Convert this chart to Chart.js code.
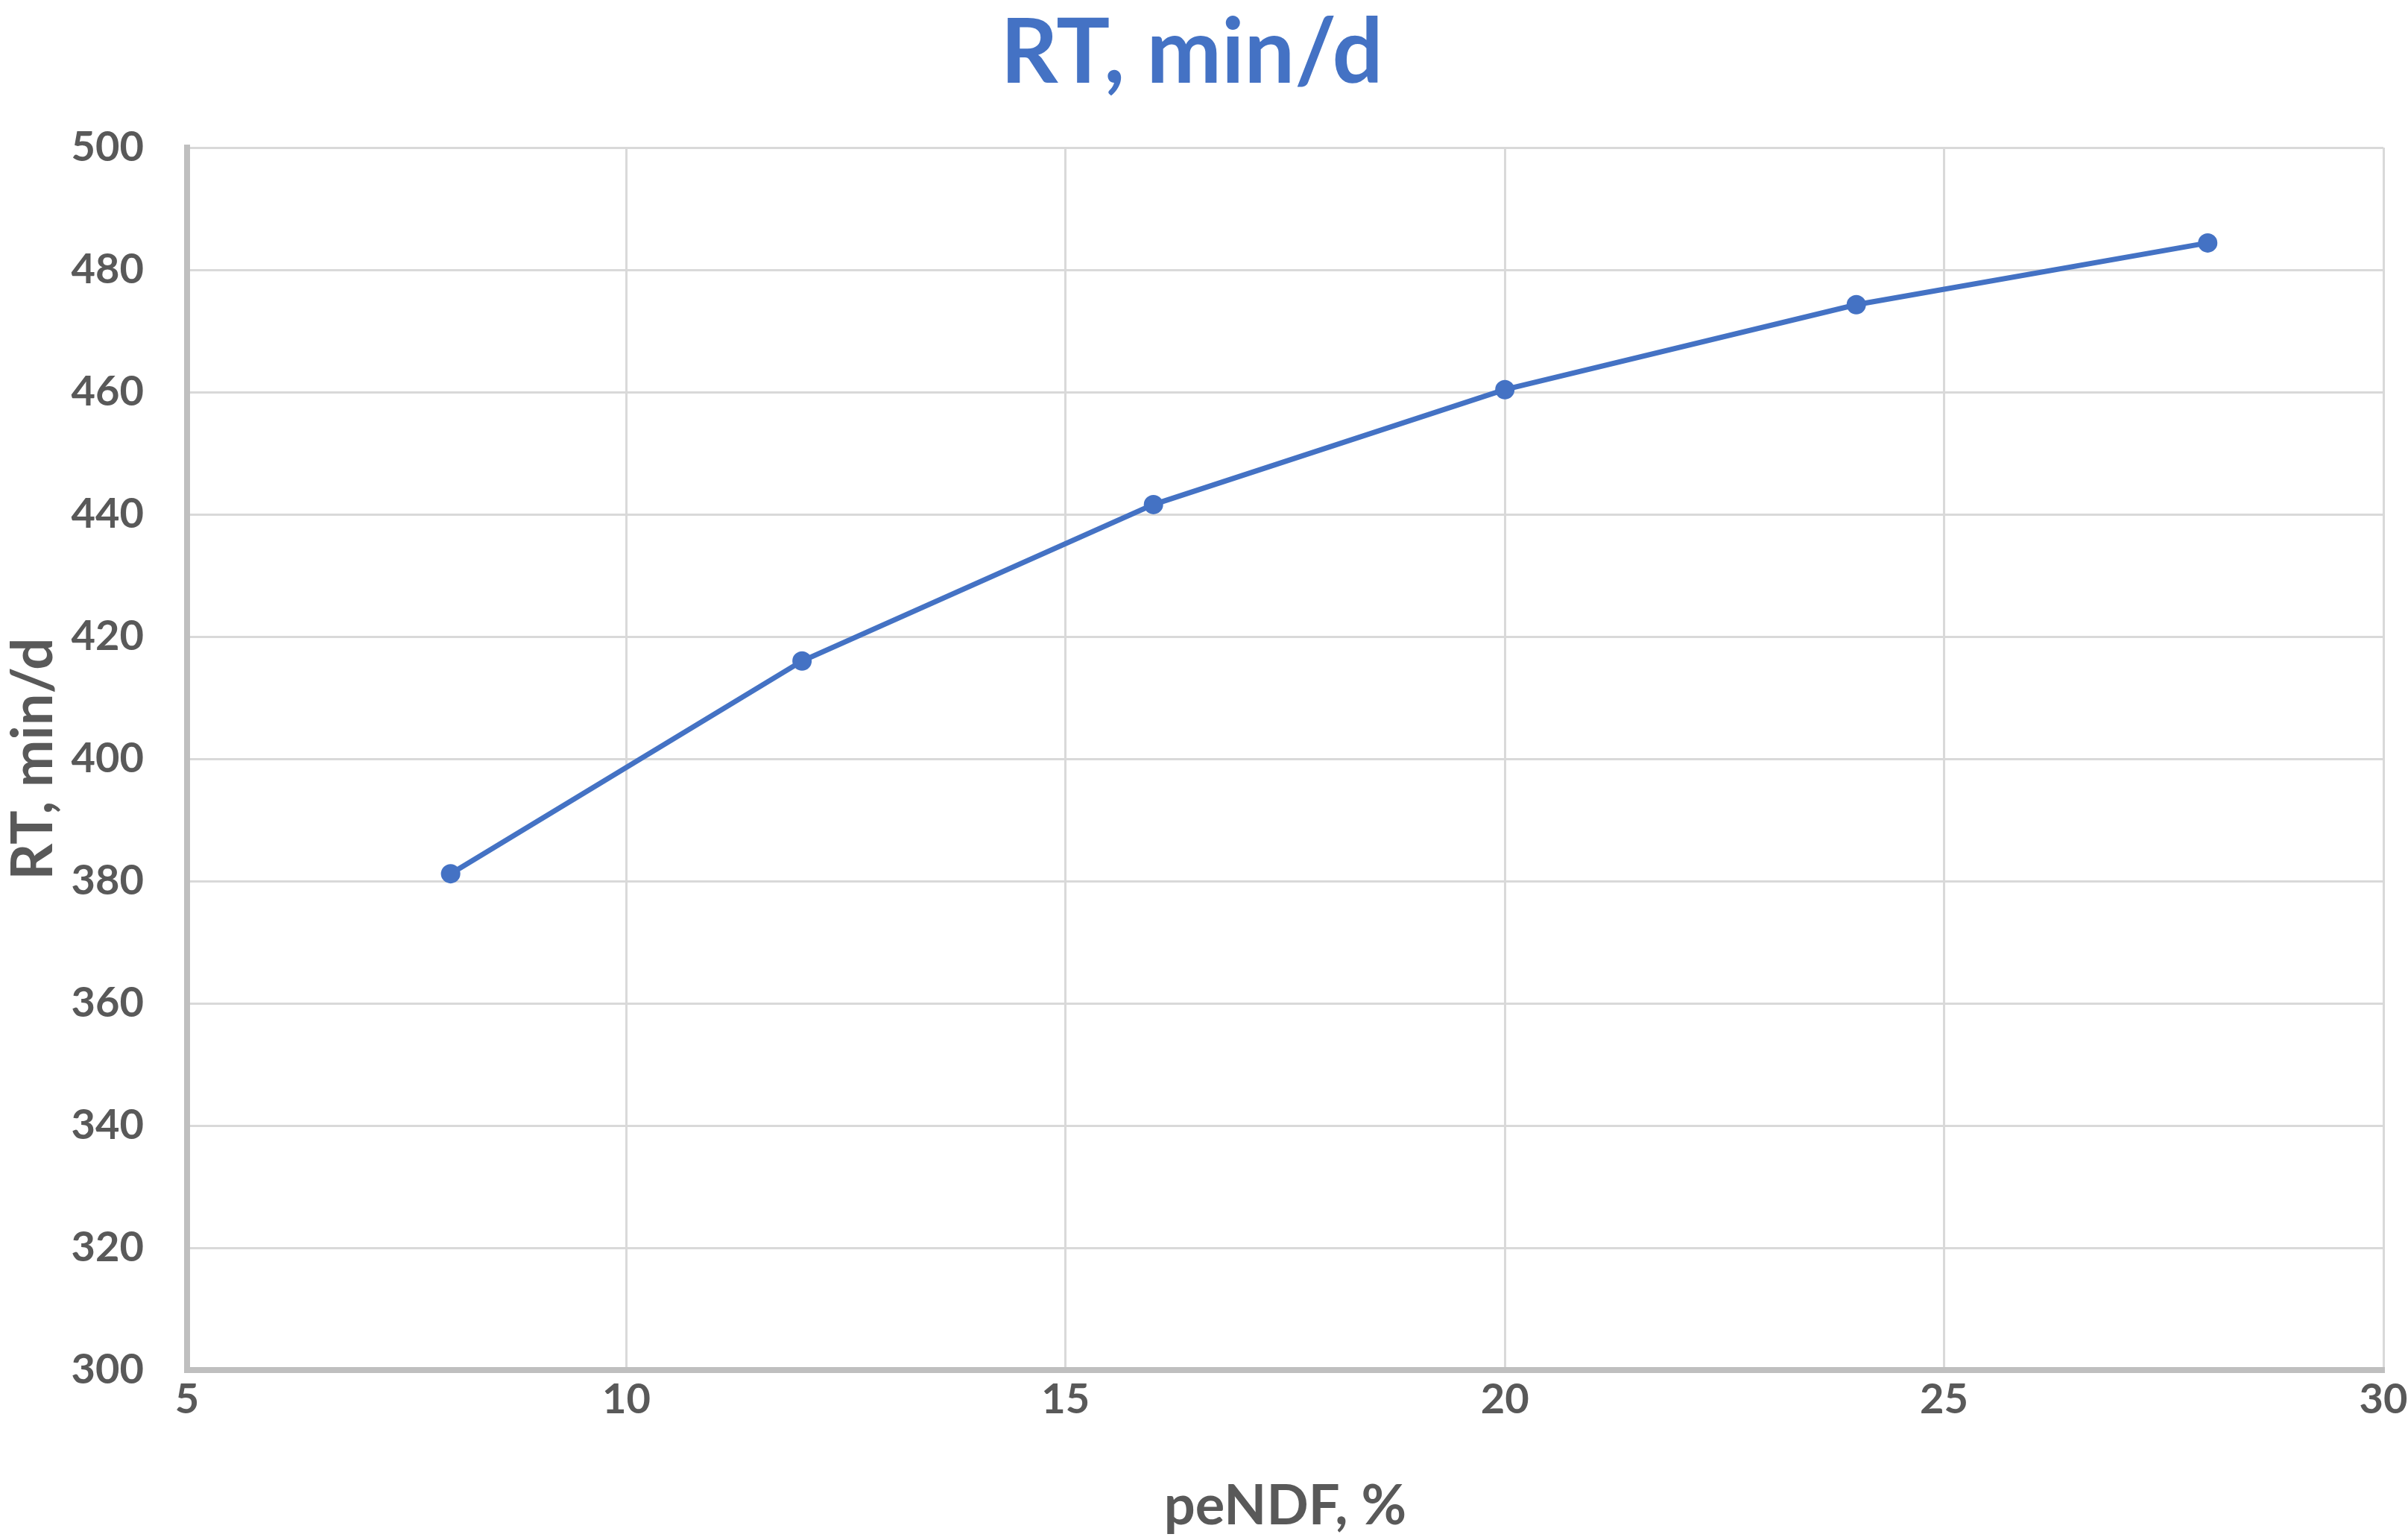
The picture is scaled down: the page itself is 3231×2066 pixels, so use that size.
<!DOCTYPE html>
<html>
<head>
<meta charset="utf-8">
<script src="https://cdn.jsdelivr.net/npm/chart.js@4.4.0/dist/chart.umd.min.js"></script>
<style>
  html, body { margin: 0; padding: 0; background: #ffffff; }
  #wrap { width: 3231px; height: 2066px; }
</style>
</head>
<body>
<div id="wrap"><canvas id="rt-chart" width="3231" height="2066"></canvas></div>
<script>
// 데이터
var peNDF = [8, 12, 16, 20, 24, 28];
var rtMinPerDay = [381.2, 416.0, 441.6, 460.4, 474.3, 484.4];
var xTicks = [5, 10, 15, 20, 25, 30];
var yTicks = [300, 320, 340, 360, 380, 400, 420, 440, 460, 480, 500];

var FONT = 'Lato, Carlito, Calibri, "Open Sans", sans-serif';
var TEXT = '#595959';

var points = peNDF.map(function (x, i) {
  return { x: x, y: rtMinPerDay[i] };
});

var ctx = document.getElementById('rt-chart').getContext('2d');
var rtChart = new Chart(ctx, {
  type: 'scatter',
  data: {
    datasets: [{
      label: 'RT, min/d',
      data: points,
      showLine: true,
      borderColor: '#4472C4',
      backgroundColor: '#4472C4',
      borderWidth: 7,
      pointRadius: 13,
      pointHoverRadius: 13,
      pointBorderWidth: 0,
      tension: 0
    }]
  },
  options: {
    responsive: false,
    animation: false,
    layout: { padding: { left: 0, right: 33, top: 0, bottom: 0 } },
    plugins: {
      legend: { display: false },
      tooltip: { enabled: false },
      title: {
        display: true,
        text: 'RT, min/d',
        color: '#4472C4',
        font: { family: FONT, size: 120, weight: 'bold' },
        padding: { top: 0, bottom: 54 }
      }
    },
    scales: {
      x: {
        type: 'linear',
        min: 5,
        max: 30,
        afterBuildTicks: function (axis) {
          axis.ticks = xTicks.map(function (v) { return { value: v }; });
        },
        afterFit: function (axis) {
          axis.height = 228;
          axis.paddingRight = 0;
          axis.paddingLeft = 0;
        },
        grid: { color: '#D9D9D9', lineWidth: 3, drawTicks: false },
        border: { color: '#BFBFBF', width: 8 },
        ticks: {
          color: TEXT,
          padding: 6,
          maxRotation: 0,
          font: { family: FONT, size: 56, weight: 'bold' }
        },
        title: {
          display: true,
          text: 'peNDF, %',
          color: TEXT,
          font: { family: FONT, size: 74, weight: 'bold' },
          padding: { top: 0, bottom: 0 }
        }
      },
      y: {
        type: 'linear',
        min: 300,
        max: 500,
        afterBuildTicks: function (axis) {
          axis.ticks = yTicks.map(function (v) { return { value: v }; });
        },
        afterFit: function (axis) { axis.width = 251; },
        grid: { color: '#D9D9D9', lineWidth: 3, drawTicks: false },
        border: { color: '#BFBFBF', width: 8 },
        ticks: {
          color: TEXT,
          padding: 58,
          font: { family: FONT, size: 56, weight: 'bold' }
        },
        title: {
          display: true,
          text: 'RT, min/d',
          color: TEXT,
          font: { family: FONT, size: 76, weight: 'bold' },
          padding: { top: 0, bottom: 0 }
        }
      }
    }
  }
});
</script>
</body>
</html>
